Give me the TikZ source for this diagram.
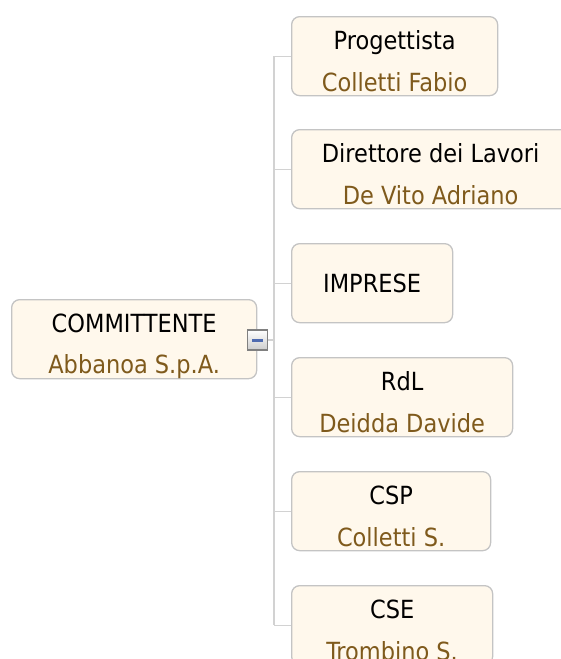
\documentclass[tikz,border=0pt]{standalone}
\usepackage{fontspec}
\setmainfont{DejaVu Sans Condensed}
\usetikzlibrary{calc}
\definecolor{boxfill}{HTML}{FFF8EC}
\definecolor{boxline}{HTML}{C4C4C4}
\definecolor{conn}{HTML}{D2D2D2}
\definecolor{sub}{HTML}{7F5A1C}
\definecolor{btnline}{HTML}{808080}
\definecolor{minusblue}{HTML}{4F6BB0}
\begin{document}
\begin{tikzpicture}[x=1pt,y=-1pt,
  card/.style={draw=boxline, line width=1.3pt, fill=boxfill, rounded corners=8pt, anchor=north west, inner sep=0pt, minimum height=79pt},
  title/.style={font=\fontsize{25}{29}\selectfont, text=black, inner sep=0pt, anchor=base},
  who/.style={font=\fontsize{25}{29}\selectfont, text=sub, inner sep=0pt, anchor=base},
  link/.style={draw=conn, line width=1.3pt},
  btn/.style={draw=btnline, line width=1.2pt, top color=white, bottom color=black!20, inner sep=0pt, minimum size=20pt}]
\useasboundingbox (0,0) rectangle (561,659);
\clip (0,0) rectangle (561,659);
% root
\node[card, minimum width=245pt] (root) at (11,299) {};
\node[title] (rootT) at ($(root.north)+(0,33.5)$) {COMMITTENTE};
\node[who] (rootW) at ($(root.north)+(0,74)$) {Abbanoa S.p.A.};
% children
\node[card, minimum width=206pt] (prog) at (291,16) {};
\node[title] (progT) at ($(prog.north)+(0,33.5)$) {Progettista};
\node[who] (progW) at ($(prog.north)+(0,75.5)$) {Colletti Fabio};
\node[card, minimum width=278pt] (dir) at (291,129) {};
\node[title] (dirT) at ($(dir.north)+(0,33.5)$) {Direttore dei Lavori};
\node[who] (dirW) at ($(dir.north)+(0,75.5)$) {De Vito Adriano};
\node[card, minimum width=161pt] (imp) at (291,243) {};
\node[title] (impT) at ($(imp.north)+(0,49.5)$) {IMPRESE};
\node[card, minimum width=221pt] (rdl) at (291,357) {};
\node[title] (rdlT) at ($(rdl.north)+(0,33.5)$) {RdL};
\node[who] (rdlW) at ($(rdl.north)+(0,75.5)$) {Deidda Davide};
\node[card, minimum width=199pt] (csp) at (291,471) {};
\node[title] (cspT) at ($(csp.north)+(0,33.5)$) {CSP};
\node[who] (cspW) at ($(csp.north)+(0,75.5)$) {Colletti S.};
\node[card, minimum width=201pt] (cse) at (291,585) {};
\node[title] (cseT) at ($(cse.north)+(0,33.5)$) {CSE};
\node[who] (cseW) at ($(cse.north)+(0,75.5)$) {Trombino S.};
% connectors
\coordinate (spine) at (274,340);
\node[btn] (btn) at (257.5,340) {};
\draw[minusblue, line width=3pt] ($(btn.center)+(-5.5,0)$) -- ($(btn.center)+(5.5,0)$);
\draw[link] (btn.east) -- (spine);
\draw[link] (spine |- prog.west) -- (spine |- cse.west);
\foreach \c in {prog,dir,imp,rdl,csp,cse}{
  \draw[link] (spine |- \c.west) -- (\c.west);
}
\end{tikzpicture}
\end{document}
